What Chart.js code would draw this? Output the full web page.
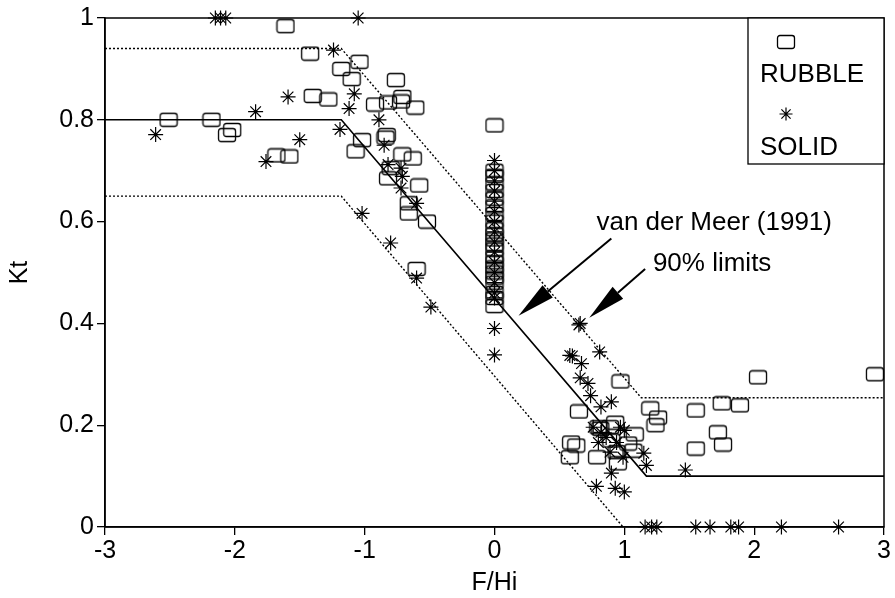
<!DOCTYPE html>
<html><head><meta charset="utf-8">
<script src="https://cdn.jsdelivr.net/npm/chart.js@4"></script>
<style>html,body{margin:0;padding:0;background:#fff}</style>
</head><body>
<canvas id="c" width="895" height="598"></canvas>
<script>
// ---- data ----
const rubbleX = [-2.51,-2.18,-2.02,-2.06,-1.68,-1.58,-1.61,-1.42,-1.40,-1.28,-1.18,-1.10,-1.04,-1.02,-1.07,-0.92,-0.82,-0.76,-0.71,-0.72,-0.61,-0.84,-0.83,-0.71,-0.63,-0.80,-0.82,-0.58,-0.66,-0.66,-0.52,-0.60,
  0,0,0,0,0,0,0,0,0,0,0,0,0,0,0,0,0,0,0,0,0,0,0,
  0.97,0.65,1.20,1.26,1.24,1.55,0.93,0.815,1.08,0.59,0.63,0.79,0.94,0.95,0.58,1.55,1.03,0.89,1.07,1.75,1.89,2.03,2.93,1.72,1.76,0.90,0.80];
const rubbleY = [0.80,0.80,0.78,0.77,0.73,0.728,0.984,0.93,0.847,0.84,0.90,0.88,0.914,0.76,0.738,0.83,0.834,0.878,0.845,0.836,0.824,0.765,0.77,0.732,0.724,0.705,0.685,0.671,0.636,0.616,0.60,0.507,
  0.789,0.434,0.45,0.46,0.48,0.49,0.50,0.51,0.52,0.53,0.545,0.555,0.565,0.575,0.585,0.60,0.615,0.63,0.645,0.66,0.675,0.69,0.70,
  0.286,0.227,0.233,0.215,0.20,0.229,0.205,0.193,0.182,0.166,0.16,0.137,0.147,0.125,0.137,0.154,0.164,0.196,0.15,0.243,0.239,0.294,0.30,0.186,0.162,0.17,0.196];
const solidX = [-2.15,-2.11,-2.07,-1.05,-1.24,-2.61,-1.84,-1.59,-1.50,-1.76,-1.19,-1.08,-1.12,-0.89,-0.85,-0.82,-0.72,-0.71,-0.72,-0.60,-1.02,-0.80,-0.60,-0.49,
  0,0,0,0,0,0,0,0,0,0,0,0,0,0,0,0,0,
  0.65,0.66,0.58,0.60,0.81,0.67,0.66,0.72,0.74,0.90,0.82,0.76,0.82,0.97,1.00,0.80,0.86,0.94,0.89,0.99,1.15,1.17,0.90,1.47,0.785,0.93,1.00,
  1.16,1.21,1.25,1.55,1.66,1.82,1.88,2.21,2.65];
const solidY = [1,1,1,1,0.937,0.771,0.816,0.845,0.761,0.718,0.781,0.851,0.822,0.80,0.75,0.712,0.705,0.689,0.666,0.636,0.616,0.558,0.489,0.432,
  0.72,0.70,0.68,0.66,0.64,0.62,0.60,0.58,0.56,0.54,0.52,0.50,0.48,0.46,0.45,0.39,0.338,
  0.397,0.40,0.337,0.336,0.344,0.321,0.293,0.282,0.258,0.246,0.236,0.196,0.186,0.196,0.19,0.166,0.176,0.166,0.147,0.137,0.145,0.121,0.106,0.112,0.08,0.076,0.069,
  0,0,0,0,0,0,0,0,0];
// van der Meer (1991) fit and 90% limits
const fitX = [-3,-1.18,1.17,3];
const fitY = [0.80,0.80,0.10,0.10];
const upperX = [-3,-1.18,1.13,3];
const upperY = [0.94,0.94,0.254,0.254];
const lowerX = [-3,-1.18,0.99];
const lowerY = [0.65,0.65,0];
const xTicks = [-3,-2,-1,0,1,2,3];
const yTicks = [0,0.2,0.4,0.6,0.8,1];
const xTickLabels = ['-3','-2','-1','0','1','2','3'];
const yTickLabels = ['0','0.2','0.4','0.6','0.8','1'];
const seriesNames = ['RUBBLE','SOLID'];
const noteFit = 'van der Meer (1991)';
const noteLim = '90% limits';

const FONT = '"Liberation Sans", Arial, sans-serif';
const pts = (xs, ys) => xs.map((v,i)=>({x:v,y:ys[i]}));

function makeBox(){
  const c=document.createElement('canvas'); c.width=20; c.height=16;
  const g=c.getContext('2d'); g.strokeStyle='#000'; g.lineWidth=1.3;
  g.beginPath();
  if (g.roundRect) g.roundRect(1.5,1.5,17,13,2.5); else g.rect(1.5,1.5,17,13);
  g.stroke(); return c;
}
const boxImg = makeBox();

function star(ctx,x,y,r){
  ctx.beginPath();
  for (let k=0;k<4;k++){const a=k*Math.PI/4; ctx.moveTo(x-r*Math.cos(a),y-r*Math.sin(a)); ctx.lineTo(x+r*Math.cos(a),y+r*Math.sin(a));}
  ctx.stroke();
}
function arrow(ctx,x0,y0,x1,y1){
  const L=38,W=8; const dx=x1-x0,dy=y1-y0,d=Math.hypot(dx,dy),ux=dx/d,uy=dy/d;
  const bx=x1-ux*L,by=y1-uy*L;
  ctx.beginPath(); ctx.moveTo(x0,y0); ctx.lineTo(bx,by); ctx.lineWidth=2; ctx.stroke();
  ctx.beginPath(); ctx.moveTo(x1,y1); ctx.lineTo(bx-uy*W,by+ux*W); ctx.lineTo(bx+uy*W,by-ux*W); ctx.closePath(); ctx.fill();
}

const deco = {
  id:'deco',
  afterDraw(chart){
    const {ctx, chartArea:a, scales:{x,y}} = chart;
    ctx.save();
    ctx.strokeStyle='#000'; ctx.fillStyle='#000'; ctx.lineWidth=1.5;
    ctx.strokeRect(a.left,a.top,a.right-a.left,a.bottom-a.top);
    // legend
    const lx=a.right-136, lb=a.top+146;
    ctx.fillStyle='#fff'; ctx.fillRect(lx,a.top,a.right-lx,lb-a.top);
    ctx.fillStyle='#000'; ctx.lineWidth=1.3;
    ctx.strokeRect(lx,a.top,a.right-lx,lb-a.top);
    ctx.drawImage(boxImg,a.right-98-10,a.top+24-8);
    ctx.font='26px '+FONT; ctx.textBaseline='middle'; ctx.textAlign='left';
    ctx.fillText(seriesNames[0],a.right-124,a.top+57);
    ctx.lineWidth=1.2; star(ctx,a.right-98,a.top+96,6.5);
    ctx.fillText(seriesNames[1],a.right-124,a.top+130);
    // annotations
    ctx.fillText(noteFit,x.getPixelForValue(0.785),y.getPixelForValue(0.597));
    ctx.fillText(noteLim,x.getPixelForValue(1.22),y.getPixelForValue(0.517));
    arrow(ctx,x.getPixelForValue(0.90),y.getPixelForValue(0.567),x.getPixelForValue(0.185),y.getPixelForValue(0.415));
    arrow(ctx,x.getPixelForValue(1.16),y.getPixelForValue(0.507),x.getPixelForValue(0.73),y.getPixelForValue(0.411));
    ctx.restore();
  }
};

const lineDs = (xs,ys,dash,w)=>({type:'line',data:pts(xs,ys),borderColor:'#000',borderWidth:w,borderDash:dash,pointRadius:0,fill:false,tension:0,showLine:true,order:5});

new Chart(document.getElementById('c'),{
  type:'scatter',
  data:{datasets:[
    {label:seriesNames[0],data:pts(rubbleX,rubbleY),pointStyle:boxImg,pointRadius:8,clip:false,order:1},
    {label:seriesNames[1],data:pts(solidX,solidY),pointStyle:'star',pointRadius:7.5,borderColor:'#000',borderWidth:1.2,clip:false,order:1},
    lineDs(fitX,fitY,[],1.6),
    lineDs(upperX,upperY,[2,2],1.4),
    lineDs(lowerX,lowerY,[2,2],1.4)
  ]},
  options:{
    responsive:false, animation:false,
    layout:{padding:{top:16,right:11,left:0,bottom:0}},
    plugins:{legend:{display:false},tooltip:{enabled:false}},
    scales:{
      x:{type:'linear',min:-3,max:3,
        afterFit(s){s.height=71;},
        afterBuildTicks(s){s.ticks=xTicks.map(v=>({value:v}));},
        grid:{drawOnChartArea:false,tickLength:8,color:'#000',lineWidth:1.3},
        border:{display:true,color:'#000',width:1.5},
        ticks:{color:'#000',font:{family:FONT,size:25},padding:1,maxRotation:0,
          callback:(v)=>{const i=xTicks.indexOf(v);return i>=0?xTickLabels[i]:'';}},
        title:{display:true,text:'F/Hi',color:'#000',font:{family:FONT,size:25},padding:0}},
      y:{type:'linear',min:0,max:1,
        afterFit(s){s.width=105;},
        afterBuildTicks(s){s.ticks=yTicks.map(v=>({value:v}));},
        grid:{drawOnChartArea:false,tickLength:8,color:'#000',lineWidth:1.3},
        border:{display:true,color:'#000',width:1.5},
        ticks:{color:'#000',font:{family:FONT,size:25},padding:3,
          callback:(v)=>{const i=yTicks.indexOf(v);return i>=0?yTickLabels[i]:'';}},
        title:{display:true,text:'Kt',color:'#000',font:{family:FONT,size:25},padding:5}}
    }
  },
  plugins:[deco]
});
</script>
</body></html>
